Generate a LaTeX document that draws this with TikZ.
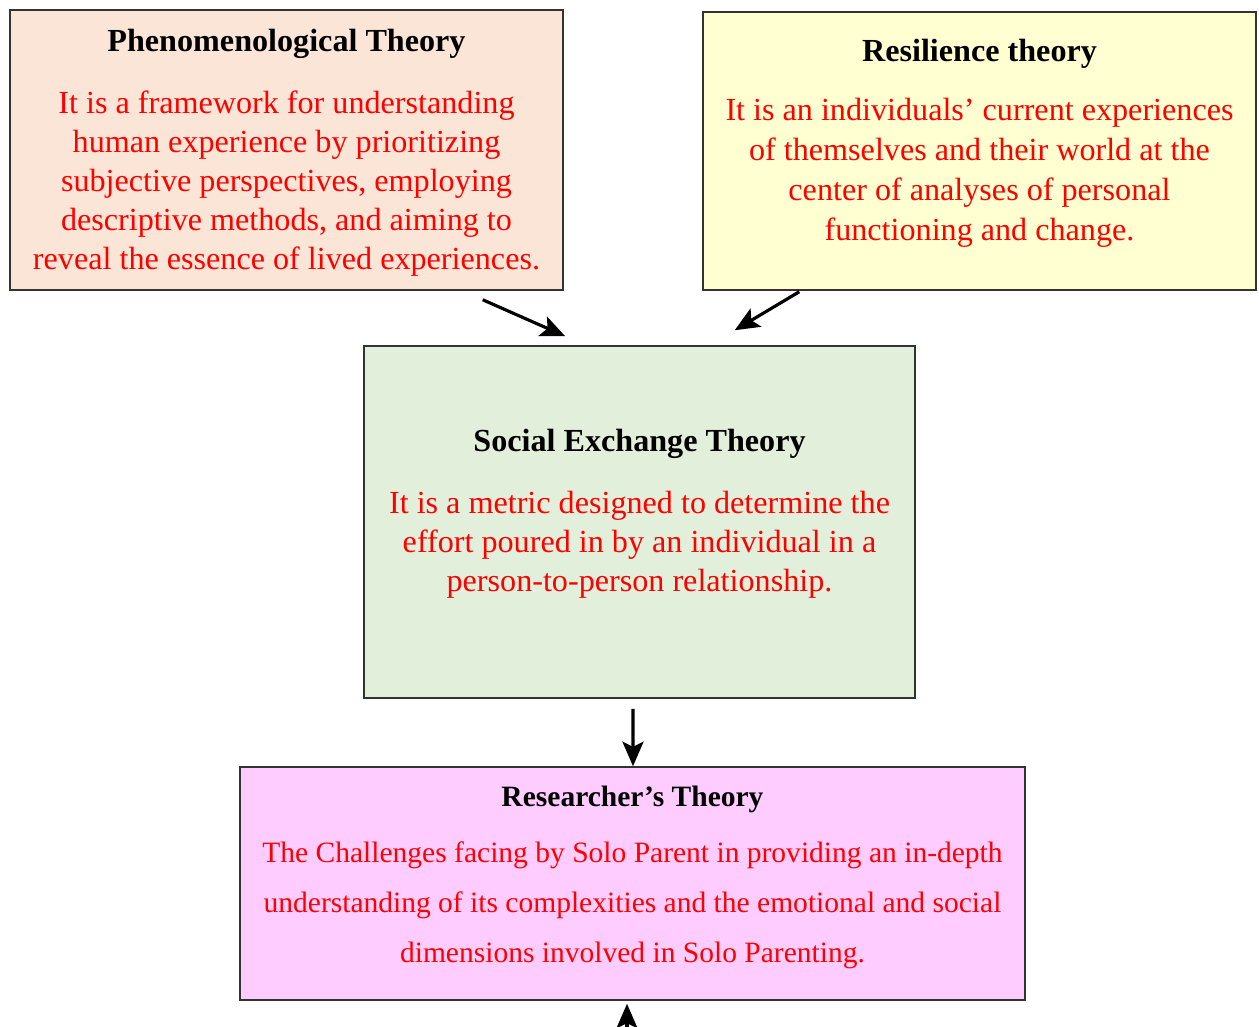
\documentclass[tikz,border=0pt]{standalone}
\usepackage{fontspec}
\setmainfont{Liberation Serif}
\usetikzlibrary{calc, arrows.meta}
\definecolor{peach}{HTML}{FBE5D6}
\definecolor{paleyellow}{HTML}{FFFFD1}
\definecolor{palegreen}{HTML}{E2EFDA}
\definecolor{palepink}{HTML}{FFCCFF}

\begin{document}
\begin{tikzpicture}[x = 0.02cm, y = -0.02cm,
        box/.style = {draw = black!80, line width = 0.9pt, inner sep = 0pt},
        words/.style = {align = center, inner sep = 0pt, anchor = north, text = red,
            font = \fontsize{18.3}{22.2}\selectfont},
        arr/.style = {line width = 1.8pt, -{Stealth[length = 14pt, width = 12pt, inset = 3pt]}}]
        \useasboundingbox (0, 0) rectangle (1259, 1027);
        \node[box, fill = peach, minimum width = 11.06cm, minimum height = 5.6cm] (phen) at (286.5, 150) {};
        \node[box, fill = paleyellow, minimum width = 11.06cm, minimum height = 5.56cm] (res) at (979.5, 151) {};
        \node[box, fill = palegreen, minimum width = 11.02cm, minimum height = 7.04cm] (set) at (639.5, 522) {};
        \node[box, fill = palepink, minimum width = 15.7cm, minimum height = 4.66cm] (rt) at (632.5, 883.5) {};
        \node[words] (phentext) at ($(phen.north) + (0, 20)$)
            {{\color{black}\bfseries Phenomenological Theory}\\[13pt]
             It is a framework for understanding\\ human experience by prioritizing\\
             subjective perspectives, employing\\ descriptive methods, and aiming to\\
             reveal the essence of lived experiences.};
        \node[words, font = \fontsize{18.3}{22.6}\selectfont] (restext) at ($(res.north) + (0, 28)$)
            {{\color{black}\bfseries Resilience theory}\\[11pt]
             It is an individuals' current experiences\\ of themselves and their world at the\\
             center of analyses of personal\\ functioning and change.};
        \node[words] (settext) at ($(set.north) + (0, 84)$)
            {{\color{black}\bfseries Social Exchange Theory}\\[13pt]
             It is a metric designed to determine the\\ effort poured in by an individual in a\\
             person-to-person relationship.};
        \node[words, font = \fontsize{16.8}{28.3}\selectfont] (rttext) at ($(rt.north) + (0, 19)$)
            {{\color{black}\bfseries Researcher's Theory}\\[4pt]
             The Challenges facing by Solo Parent in providing an in-depth\\
             understanding of its complexities and the emotional and social\\
             dimensions involved in Solo Parenting.};
        % arrows into the middle box
        \draw[arr] ($(phen.south east) + (-81, 9)$) -- ($(set.north west) + (202, -9)$);
        \draw[arr] ($(res.south west) + (97, 1)$) -- ($(set.north east) + (-181, -15)$);
        \draw[arr] ($(set.south) + (-6.5, 10)$) -- ($(rt.north) + (0.5, 0)$);
        \coordinate (below) at (627, 1027);
        \draw[arr] (below) -- ($(rt.south) + (-5.5, 3)$);
    \end{tikzpicture}
\end{document}
